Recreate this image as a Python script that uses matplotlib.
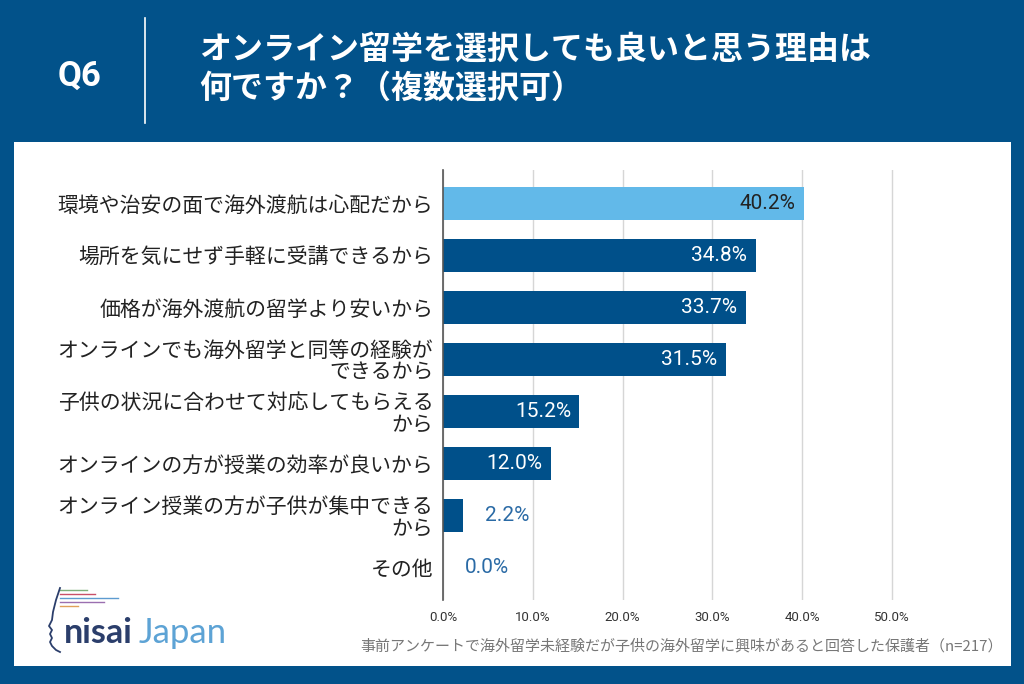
import matplotlib
matplotlib.use("Agg")
import matplotlib.pyplot as plt
from matplotlib.patches import Rectangle
from matplotlib.lines import Line2D

plt.rcParams["font.family"] = ["Noto Sans CJK JP", "DejaVu Sans"]

# データ
categories = [
    "環境や治安の面で海外渡航は心配だから",
    "場所を気にせず手軽に受講できるから",
    "価格が海外渡航の留学より安いから",
    "オンラインでも海外留学と同等の経験が\nできるから",
    "子供の状況に合わせて対応してもらえる\nから",
    "オンラインの方が授業の効率が良いから",
    "オンライン授業の方が子供が集中できる\nから",
    "その他",
]
values = [40.2, 34.8, 33.7, 31.5, 15.2, 12.0, 2.2, 0.0]
xticks = [0, 10, 20, 30, 40, 50]

BG = "#02528A"
BAR = "#00508A"
HIGHLIGHT = "#62B9E9"
OUT_LABEL = "#2A6AA5"

fig = plt.figure(figsize=(10.24, 6.84), dpi=100)
fig.patch.set_facecolor(BG)

# 白パネル
fig.patches.append(Rectangle((14 / 1024, 1 - 666 / 684), (1011 - 14) / 1024, (666 - 142) / 684,
                             transform=fig.transFigure, facecolor="white", edgecolor="none", zorder=-1))

# ヘッダー
fig.text(80 / 1024, 1 - 76 / 684, "Q6", color="white", fontsize=25, fontweight="bold",
         ha="center", va="center", family=["Roboto", "DejaVu Sans"])
fig.add_artist(Line2D([145 / 1024, 145 / 1024], [1 - 18 / 684, 1 - 123 / 684],
                      transform=fig.transFigure, color="white", lw=1.2))
fig.text(199 / 1024, 1 - 50 / 684, "オンライン留学を選択しても良いと思う理由は", color="white",
         fontsize=23, fontweight="bold", ha="left", va="center")
fig.text(199 / 1024, 1 - 89 / 684, "何ですか？（複数選択可）", color="white",
         fontsize=23, fontweight="bold", ha="left", va="center")

XMAX = 50.3
ax = fig.add_axes([443 / 1024, 1 - 600 / 684, (892 - 443) * XMAX / 50 / 1024, 430 / 684])
ax.set_facecolor("none")
ax.set_zorder(2)

y = list(range(len(categories)))
colors = [HIGHLIGHT] + [BAR] * (len(values) - 1)
ax.barh(y, values, height=0.63, color=colors, edgecolor="none", zorder=3)

for i, v in enumerate(values):
    txt = f"{v:.1f}%"
    if v >= 10:
        c = "#222222" if i == 0 else "white"
        ax.annotate(txt, (v, i), xytext=(-6, 0), textcoords="offset points", ha="right", va="center",
                    fontsize=15, color=c, family=["Roboto", "DejaVu Sans"], zorder=4)
    else:
        ax.annotate(txt, (v, i), xytext=(16, 0), textcoords="offset points", ha="left", va="center",
                    fontsize=15, color=OUT_LABEL, family=["Roboto", "DejaVu Sans"], zorder=4)

ax.set_xlim(0, XMAX)
ax.set_ylim(7.63, -0.64)
ax.set_yticks(y)
ax.set_yticklabels(categories, fontsize=15, color="#222222", linespacing=1.0)
ax.tick_params(axis="y", length=0, pad=7)
ax.set_xticks(xticks)
ax.set_xticklabels([f"{t:.1f}%" for t in xticks], fontsize=9.5, color="#333333",
                   family=["Roboto", "DejaVu Sans"])
ax.tick_params(axis="x", length=0, pad=8)
for t in ax.get_yticklabels():
    t.set_horizontalalignment("right")
    t.set_multialignment("right")

ax.grid(axis="x", color="#D6D6D6", linewidth=1, zorder=1)
for s in ["top", "right", "bottom"]:
    ax.spines[s].set_visible(False)
ax.spines["left"].set_color("#555555")
ax.spines["left"].set_linewidth(1.2)
ax.spines["left"].set_zorder(5)

# 注記
fig.text(1003 / 1024, 1 - 646 / 684,
         "事前アンケートで海外留学未経験だが子供の海外留学に興味があると回答した保護者（n=217）",
         ha="right", va="center", fontsize=10.8, color="#777777")

# ロゴ
logo_lines = [(590, 87, "#7FAE7A"), (594, 95, "#C9506A"), (598, 118, "#5D9BD0"),
              (602, 104, "#9A6FB0"), (606, 78, "#E0A05A")]
for yy, x1, col in logo_lines:
    fig.add_artist(Line2D([60 / 1024, x1 / 1024], [1 - yy / 684, 1 - yy / 684],
                          transform=fig.transFigure, color=col, lw=1.0))
face_x = [60, 56, 53, 52, 49, 52, 50, 52, 50, 52, 56, 60]
face_y = [588, 600, 612, 620, 626, 630, 634, 638, 642, 646, 650, 652]
fig.add_artist(Line2D([x / 1024 for x in face_x], [1 - v / 684 for v in face_y],
                      transform=fig.transFigure, color="#2B3E6B", lw=1.3))
fig.text(64 / 1024, 1 - 633 / 684, "nisai", color="#2B3E6B", fontsize=24.5, fontweight="bold",
         ha="left", va="center", family=["Lato", "DejaVu Sans"])
fig.text(139 / 1024, 1 - 633 / 684, "Japan", color="#5DA3D5", fontsize=25,
         ha="left", va="center", family=["Lato", "DejaVu Sans"])

fig.savefig("out.png", dpi=100, facecolor=BG)
